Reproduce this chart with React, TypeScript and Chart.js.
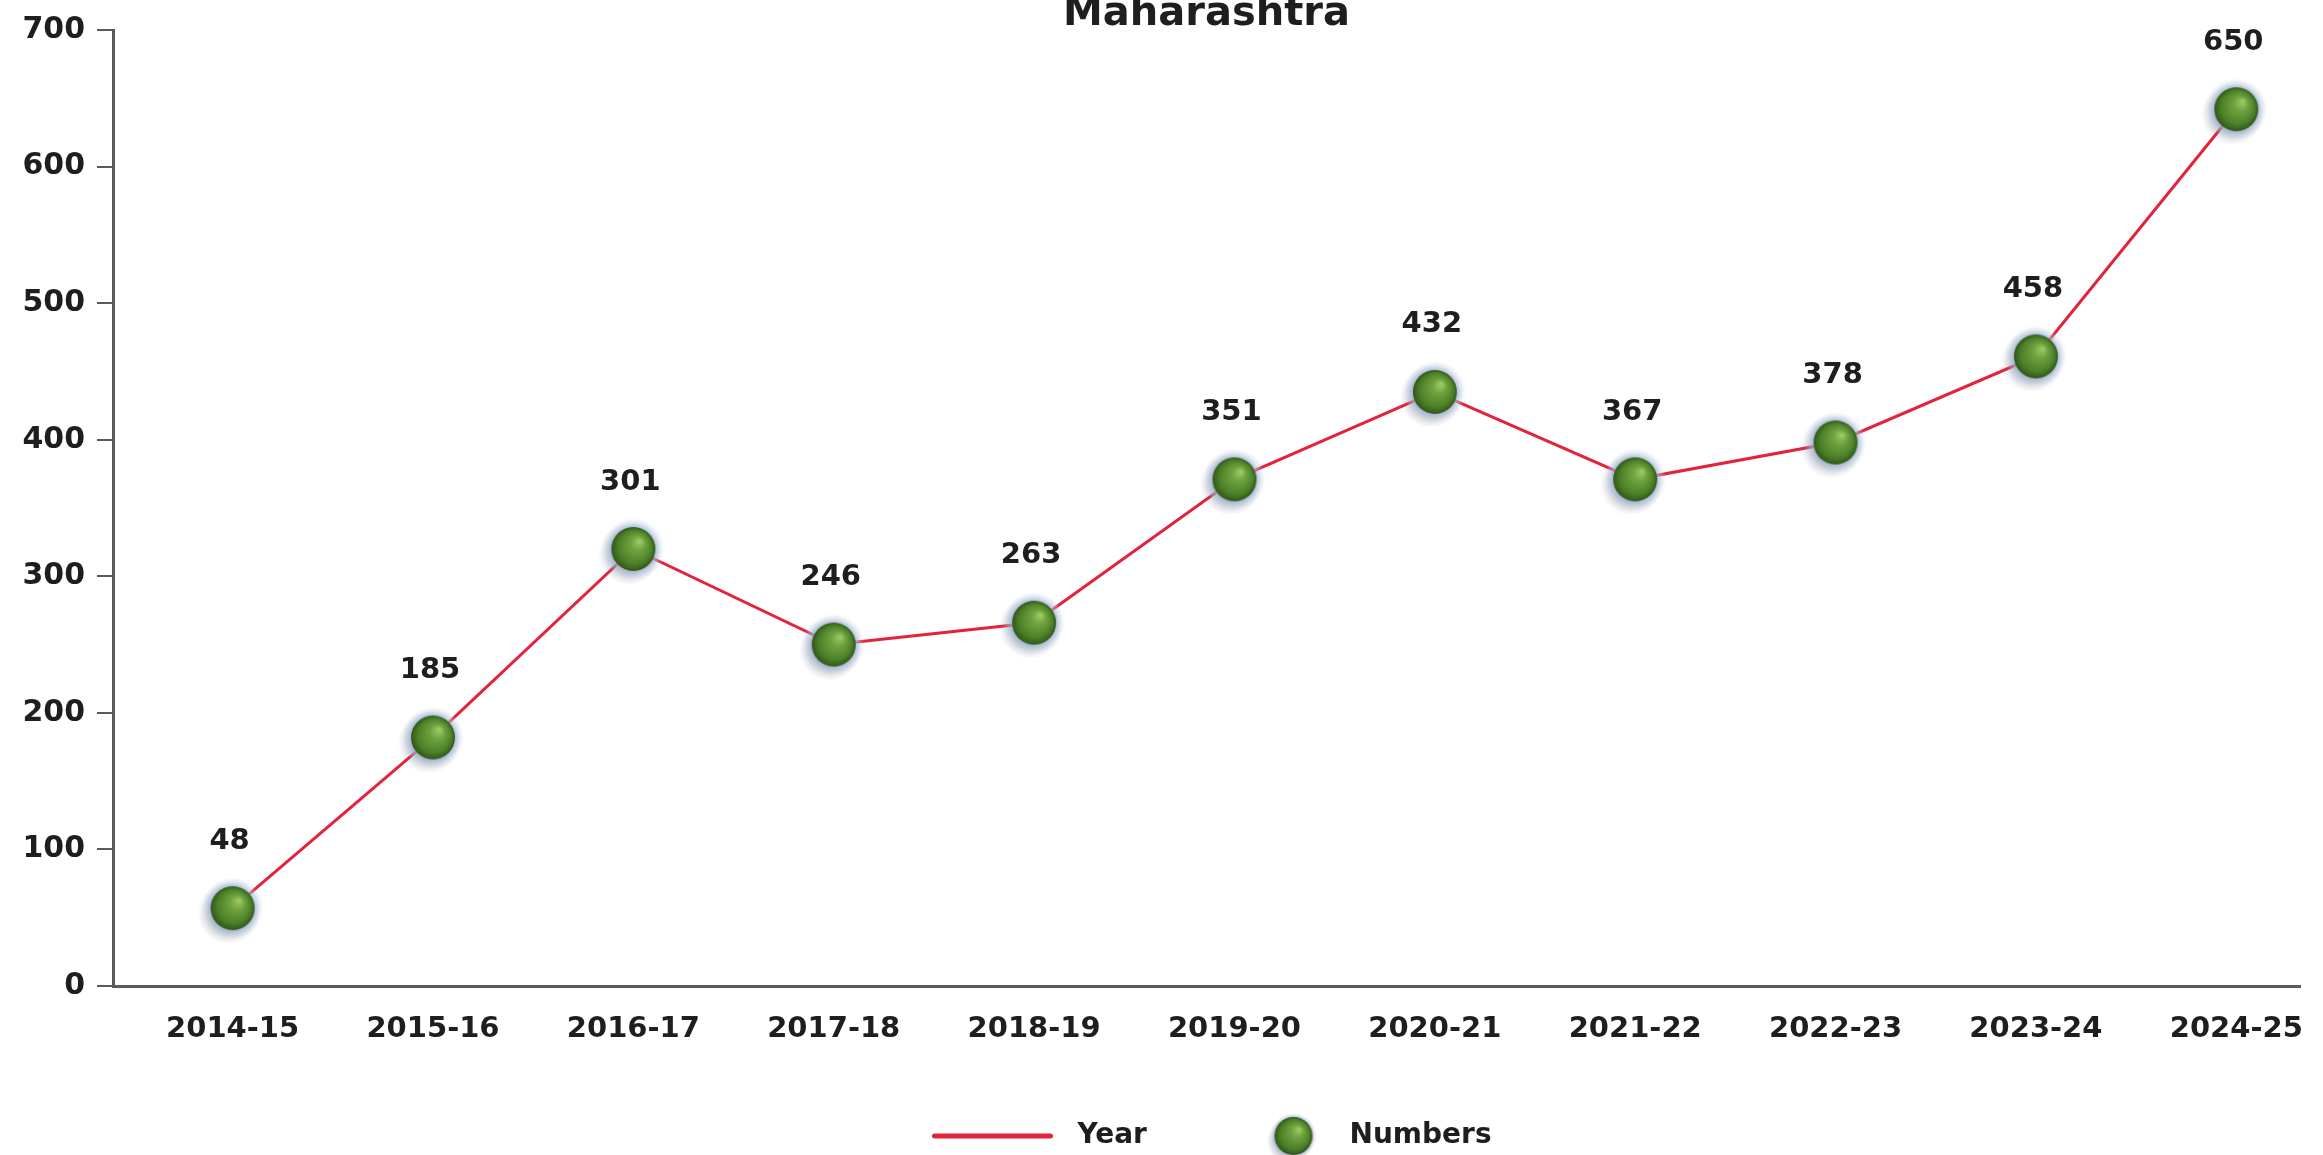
import React, { useEffect, useRef } from "react";
import { Chart, registerables } from "chart.js";

Chart.register(...registerables);

const titleText = "Maharashtra";
const categories = ["2014-15", "2015-16", "2016-17", "2017-18", "2018-19", "2019-20", "2020-21", "2021-22", "2022-23", "2023-24", "2024-25"];
// Point heights
const pointValues = [57, 182, 320, 250, 266, 371, 435, 371, 398, 461, 642];
// Values printed above the points
const labelValues = [48, 185, 301, 246, 263, 351, 432, 367, 378, 458, 650];
const yTicks = [0, 100, 200, 300, 400, 500, 600, 700];
const legendLabels = ["Year", "Numbers"];

const FONT = "'DejaVu Sans', sans-serif";
const RED = "#e2233b";
const AXIS = "#5a5a5a";
const TEXT = "#1e1e1e";

function makeBall(r: number, halo: number): HTMLCanvasElement {
  const size = Math.ceil((halo + 4) * 2);
  const c = document.createElement("canvas");
  c.width = size;
  c.height = size;
  const ctx = c.getContext("2d")!;
  const cx = size / 2;
  const cy = size / 2;
  if (halo > r) {
    const sg = ctx.createRadialGradient(cx - 4, cy + 5, r * 0.6, cx - 4, cy + 5, halo);
    sg.addColorStop(0, "rgba(90,100,120,0.55)");
    sg.addColorStop(1, "rgba(120,130,150,0)");
    ctx.fillStyle = sg;
    ctx.beginPath();
    ctx.arc(cx - 4, cy + 5, halo, 0, Math.PI * 2);
    ctx.fill();
    const hg = ctx.createRadialGradient(cx, cy, r, cx, cy, halo);
    hg.addColorStop(0, "rgba(160,180,210,0.75)");
    hg.addColorStop(1, "rgba(200,215,235,0)");
    ctx.fillStyle = hg;
    ctx.beginPath();
    ctx.arc(cx, cy, halo, 0, Math.PI * 2);
    ctx.fill();
  }
  const g = ctx.createRadialGradient(cx + r * 0.3, cy - r * 0.35, r * 0.05, cx, cy, r);
  g.addColorStop(0, "#9cc860");
  g.addColorStop(0.3, "#6fa23f");
  g.addColorStop(0.75, "#4d8128");
  g.addColorStop(1, "#30561a");
  ctx.fillStyle = g;
  ctx.beginPath();
  ctx.arc(cx, cy, r, 0, Math.PI * 2);
  ctx.fill();
  return c;
}

export default function App() {
  const ref = useRef<HTMLCanvasElement | null>(null);

  useEffect(() => {
    if (!ref.current) return;
    const ball = makeBall(22, 31);
    const legendBall = makeBall(19, 23);

    const data = pointValues.map((v, i) => ({ x: i, y: v }));

    const overlay = {
      id: "overlay",
      afterDatasetsDraw(chart: any) {
        const ctx = chart.ctx;
        const meta = chart.getDatasetMeta(0);
        ctx.save();
        ctx.fillStyle = TEXT;
        ctx.font = `bold 29px ${FONT}`;
        ctx.textAlign = "center";
        ctx.textBaseline = "middle";
        meta.data.forEach((el: any, i: number) => {
          ctx.fillText(String(labelValues[i]), el.x - 3, el.y - 67);
        });
        ctx.restore();
      },
      afterDraw(chart: any) {
        const ctx = chart.ctx;
        const ca = chart.chartArea;
        const cxm = (ca.left + ca.right) / 2;
        ctx.save();
        ctx.fillStyle = TEXT;
        ctx.font = `bold 40px ${FONT}`;
        ctx.textAlign = "center";
        ctx.textBaseline = "alphabetic";
        ctx.fillText(titleText, cxm, 25);
        const ly = chart.height - 19;
        const x0 = cxm - 272;
        ctx.strokeStyle = RED;
        ctx.lineWidth = 5;
        ctx.lineCap = "round";
        ctx.beginPath();
        ctx.moveTo(x0, ly);
        ctx.lineTo(x0 + 116, ly);
        ctx.stroke();
        ctx.font = `bold 28px ${FONT}`;
        ctx.textAlign = "left";
        ctx.textBaseline = "middle";
        ctx.fillText(legendLabels[0], x0 + 143, ly);
        ctx.drawImage(legendBall, x0 + 359 - legendBall.width / 2, ly - legendBall.height / 2);
        ctx.fillText(legendLabels[1], x0 + 415, ly);
        ctx.restore();
      },
    };

    const chart = new Chart(ref.current, {
      type: "line",
      data: {
        datasets: [
          {
            label: legendLabels[1],
            data,
            showLine: false,
            pointStyle: ball as any,
            pointRadius: 22,
            pointHoverRadius: 22,
            clip: false as any,
          },
          {
            label: legendLabels[0],
            data,
            borderColor: RED,
            borderWidth: 3,
            pointRadius: 0,
            pointHoverRadius: 0,
            tension: 0,
            fill: false,
            clip: false as any,
          },
        ],
      },
      options: {
        animation: false,
        responsive: true,
        maintainAspectRatio: false,
        layout: { padding: { left: 0, right: 15, top: 27, bottom: 90 } },
        plugins: {
          legend: { display: false },
          title: { display: false },
          tooltip: { enabled: false },
        },
        scales: {
          x: {
            type: "linear",
            min: -0.597,
            max: 10.318,
            afterBuildTicks: (axis: any) => {
              axis.ticks = categories.map((_, i) => ({ value: i }));
            },
            afterFit: (axis: any) => {
              axis.height = 79;
            },
            grid: {
              display: true,
              drawOnChartArea: false,
              drawTicks: true,
              tickLength: 26,
              color: "rgba(0,0,0,0)",
            },
            border: { display: true, color: AXIS, width: 3 },
            ticks: {
              autoSkip: false,
              maxRotation: 0,
              padding: 0,
              color: TEXT,
              font: { family: FONT, size: 29, weight: "bold" },
              callback: (v: any) => categories[v as number] ?? "",
            },
          },
          y: {
            min: 0,
            max: 700,
            afterBuildTicks: (axis: any) => {
              axis.ticks = yTicks.map((v) => ({ value: v }));
            },
            afterFit: (axis: any) => {
              axis.width = 113;
            },
            grid: {
              display: true,
              drawOnChartArea: false,
              drawTicks: true,
              tickLength: 16,
              color: AXIS,
              lineWidth: 2,
            },
            border: { display: true, color: AXIS, width: 3 },
            ticks: {
              padding: 12,
              color: TEXT,
              font: { family: FONT, size: 30, weight: "bold" },
            },
          },
        },
      },
      plugins: [overlay],
    });
    return () => chart.destroy();
  }, []);

  return (
    <div style={{ position: "absolute", left: 0, top: 0, width: 2323, height: 1155, background: "#fff" }}>
      <canvas ref={ref} />
    </div>
  );
}
